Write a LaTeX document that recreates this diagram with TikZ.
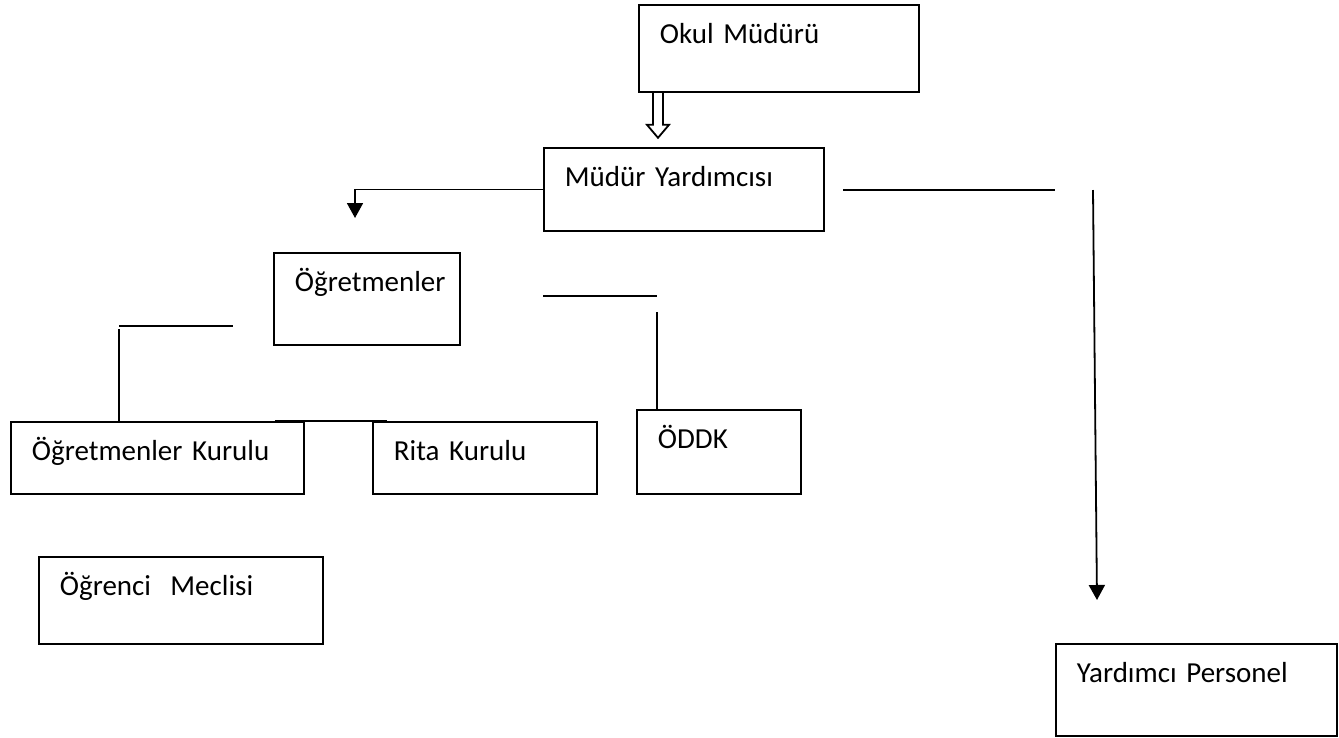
\documentclass[tikz,border=0pt]{standalone}
\usepackage{fontspec}
\setmainfont{Carlito}
\usetikzlibrary{arrows.meta,calc}
\begin{document}
\begin{tikzpicture}[x=1pt,y=-1pt,
        orgbox/.style 2 args={draw,line width=1.8pt,anchor=north west,
            inner xsep=21pt,inner ysep=0pt,align=left,
            text width=#1pt-42pt,text height=39pt,text depth=#2pt-39pt,
            font=\fontsize{29}{34}\selectfont},
        link/.style={line width=1.8pt},
        tip/.style={link,-{Triangle[width=16pt,length=15pt]}}]
    \useasboundingbox (0,0) rectangle (1339,737);
    \node [orgbox={280}{87}] (okul) at (638,4) {Okul Müdürü};
    \node [orgbox={280}{83}] (myard) at (543,147) {Müdür Yardımcısı};
    \node [orgbox={186}{92}] (ogret) at (273,252) {Öğretmenler};
    \node [orgbox={293}{72}] (okurul) at (10,421) {Öğretmenler Kurulu};
    \node [orgbox={224}{72}] (rita) at (372,421) {Rita Kurulu};
    \node [orgbox={164}{84}] (oddk) at (636,409) {ÖDDK};
    \node [orgbox={284}{87}] (meclis) at (38,556) {Öğrenci\ \ Meclisi};
    \node [orgbox={281}{92}] (yard) at (1055,643) {Yardımcı Personel};
    \coordinate (ogretin) at (355,218);
    \coordinate (persA) at (843,190);
    \coordinate (persB) at (1055,190);
    \coordinate (persC) at (1093,190);
    \coordinate (persD) at (1097,600);
    \coordinate (oddkA) at (543,296);
    \coordinate (oddkB) at (657,296);
    \coordinate (oddkC) at (657,312);
    \coordinate (kurA) at (119,326);
    \coordinate (kurB) at (233,326);
    \coordinate (kurC) at (119,329);
    \draw [link] ($(okul.south west)+(15,0)$) -- ++(0,32) -- ++(-6,0)
        -- ++(11,13) -- ++(11,-13) -- ++(-6,0) -- ++(0,-32);
    \draw [tip] (myard.west) -- (myard.west -| ogretin) -- (ogretin);
    \draw [link] (persA) -- (persB);
    \draw [tip] (persC) -- (persD);
    \draw [link] (oddkA) -- (oddkB);
    \draw [link] (oddkC) -- (oddkC |- oddk.north);
    \draw [link] (kurA) -- (kurB);
    \draw [link] (kurC) -- (kurC |- okurul.north);
    \draw [link] ($(okurul.north east)+(-30,0)$) -- ($(rita.north west)+(15,0)$);
\end{tikzpicture}
\end{document}
